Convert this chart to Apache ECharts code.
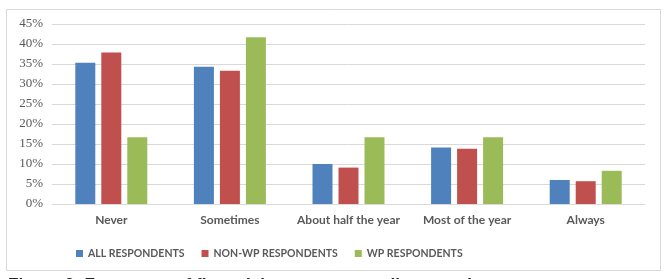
<!DOCTYPE html>
<html>
<head>
<meta charset="utf-8">
<script src="https://cdn.jsdelivr.net/npm/echarts@6/dist/echarts.min.js"></script>
<style>
  html, body { margin: 0; padding: 0; background: #fff; }
  #chart { width: 669px; height: 279px; }
</style>
</head>
<body>
<div id="chart"></div>
<script>
// frequency categories
const categories = ["Never", "Sometimes", "About half the year", "Most of the year", "Always"];

// share of respondents (%)
const allRespondents = [35.3, 34.3, 10.0, 14.1, 6.0];
const nonWpRespondents = [37.9, 33.3, 9.1, 13.8, 5.7];
const wpRespondents = [16.7, 41.7, 16.7, 16.7, 8.3];

const seriesNames = ["ALL RESPONDENTS", "NON-WP RESPONDENTS", "WP RESPONDENTS"];
const colors = ["#4F81BD", "#C0504D", "#9BBB59"];

const chart = echarts.init(document.getElementById("chart"));

const makeSeries = (name, values, color) => ({
  name: name,
  type: "bar",
  data: values,
  barWidth: 20,
  barGap: "30%",
  itemStyle: { color: color },
});

chart.setOption({
  animation: false,
  color: colors,
  grid: { left: 52, right: 24, top: 24, bottom: 75 },
  legend: {
    top: 243,
    left: 71,
    itemWidth: 7,
    itemHeight: 7,
    itemGap: 17,
    icon: "rect",
    textStyle: {
      fontFamily: "Lato",
      fontSize: 10.5,
      fontWeight: "bold",
      color: "#595959",
    },
    data: seriesNames,
  },
  xAxis: {
    type: "category",
    data: categories,
    axisTick: { show: false },
    axisLine: { lineStyle: { color: "#D9D9D9" } },
    axisLabel: {
      interval: 0,
      margin: 10,
      fontFamily: "Lato",
      fontSize: 12,
      fontWeight: "bold",
      color: "#595959",
    },
  },
  yAxis: {
    type: "value",
    min: 0,
    max: 45,
    interval: 5,
    axisLabel: {
      formatter: "{value}%",
      fontFamily: "Liberation Serif",
      fontSize: 13,
      color: "#595959",
      margin: 9,
    },
    splitLine: { lineStyle: { color: "#D9D9D9" } },
  },
  graphic: [
    {
      type: "rect",
      shape: { x: 6.5, y: 9.5, width: 654, height: 261 },
      style: { fill: "none", stroke: "#D9D9D9", lineWidth: 1 },
      silent: true,
    },
    {
      // caption, cut off by the bottom edge as in the source image
      type: "text",
      x: 8,
      y: 277,
      style: {
        text: "Figure 2: Frequency of financial worry among all respondents",
        font: "bold 17px 'Liberation Sans'",
        fill: "#222",
        verticalAlign: "top",
      },
    },
  ],
  series: [
    makeSeries(seriesNames[0], allRespondents, colors[0]),
    makeSeries(seriesNames[1], nonWpRespondents, colors[1]),
    makeSeries(seriesNames[2], wpRespondents, colors[2]),
  ],
});
</script>
</body>
</html>
